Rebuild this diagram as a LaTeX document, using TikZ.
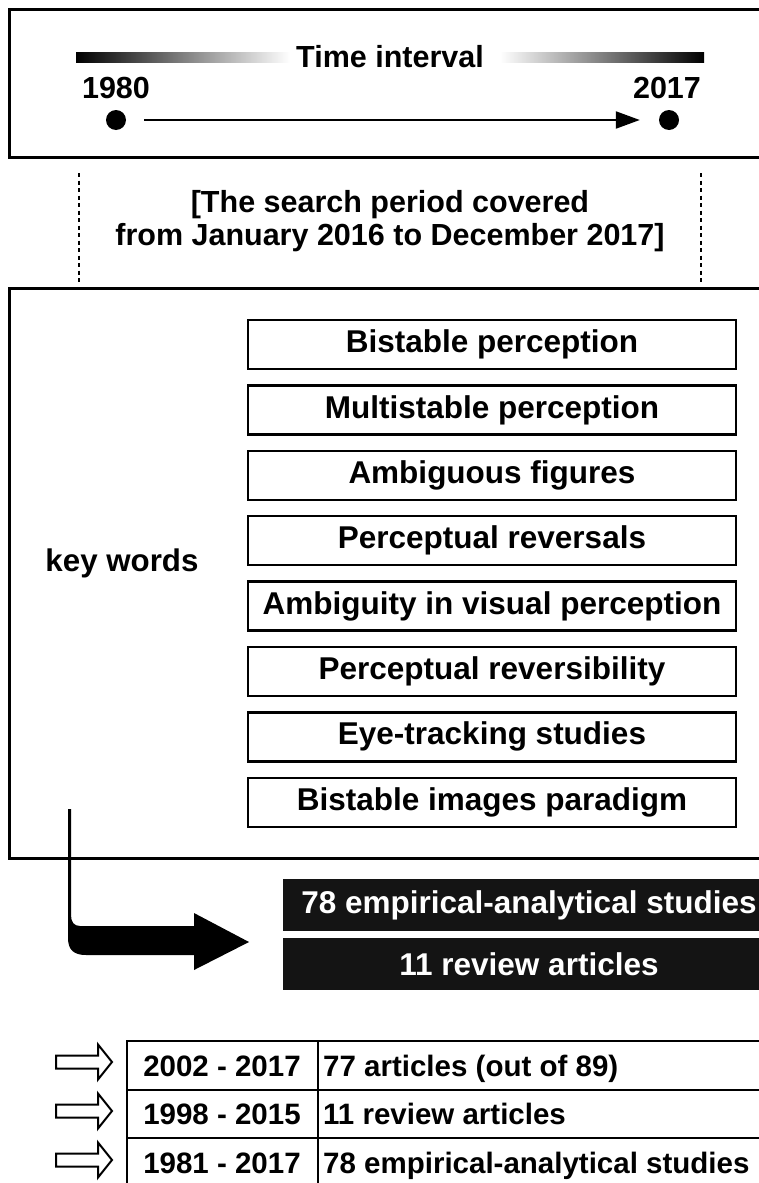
\documentclass[tikz,border=0pt]{standalone}
\usepackage{fontspec}
\setmainfont{Liberation Sans}
\usetikzlibrary{arrows.meta,positioning}

\begin{document}
\begin{tikzpicture}[x=1pt,y=-1pt,
    txt/.style={font=\fontsize{30.5}{33}\selectfont\bfseries, inner sep=0pt},
    dot/.style={circle, fill=black, minimum size=20pt, inner sep=0pt},
    keybox/.style={draw, line width=2.5pt, minimum width=488pt, minimum height=49pt,
        inner sep=0pt, font=\fontsize{31.5}{36}\selectfont\bfseries},
    blackbox/.style={fill=black!92, text=white, minimum width=492pt, minimum height=52pt,
        inner sep=0pt, font=\fontsize{31.5}{36}\selectfont\bfseries},
    cell/.style={font=\fontsize{29.5}{34}\selectfont\bfseries, inner sep=0pt}]

    \useasboundingbox (0,0) rectangle (759,1183);
    \clip (0,0) rectangle (759,1183);

    \def\timebox{(9,9) rectangle (790,157)}
    \def\wordbox{(9,288) rectangle (790,858)}
    \def\openarrow{(0,-6.5) -- (42,-6.5) -- (42,-17.5) -- (56,0) -- (42,17.5) -- (42,6.5) -- (0,6.5) -- cycle}

    %draw time interval:
    \draw[line width=3pt] \timebox;
    \shade[left color=black, right color=white] (76,52) rectangle (290,62);
    \shade[left color=white, right color=black] (500,52) rectangle (704,62);
    \node[txt] (time) at (390,57) {Time interval};
    \node[txt] (y1980) at (116,88) {1980};
    \node[txt] (y2017) at (667,88) {2017};
    \node[dot] (d1980) at (116,120) {};
    \node[dot] (d2017) at (669,120) {};
    \draw[line width=2.2pt, -{Triangle[length=24pt,width=17pt]},
        shorten <=18pt, shorten >=19pt] (d1980) -- (d2017);

    %draw search period:
    \draw[line width=2.5pt, dash pattern=on 4pt off 3.5pt] (79,173) -- (79,282);
    \draw[line width=2.5pt, dash pattern=on 4pt off 3.5pt] (701,173) -- (701,282);
    \node[txt, align=center] (period) at (390,221)
        {[The search period covered\\from January 2016 to December 2017]};

    %draw key words:
    \draw[line width=3pt] \wordbox;
    \node[txt, font=\fontsize{31.3}{36}\selectfont\bfseries] (key) at (122,563) {key words};
    \foreach \w [count=\i from 0] in {Bistable perception, Multistable perception,
        Ambiguous figures, Perceptual reversals, Ambiguity in visual perception,
        Perceptual reversibility, Eye-tracking studies, Bistable images paradigm}
        \node[keybox] (kw\i) at (492,{344.5+65.4*\i}) {\w};

    %draw result arrow:
    \fill (68,809) -- (68,938) .. controls (68,950) and (74,955) .. (86,955)
        -- (194,955) -- (194,970) -- (249,942) -- (194,913) -- (194,926) -- (80,926)
        .. controls (74,926) and (71,922) .. (71,915) -- (71,809) -- cycle;
    \node[blackbox] (emp) at (529,905) {78 empirical-analytical studies};
    \node[blackbox, below=7pt of emp] (rev) {11 review articles};

    %draw table:
    \draw[line width=2.5pt] (127,1041) rectangle (790,1190);
    \draw[line width=2.5pt] (127,1090) -- (790,1090) (127,1138) -- (790,1138)
        (318,1041) -- (318,1190);
    \foreach \y/\n [count=\i from 0] in {2002 - 2017/77 articles (out of 89),
        1998 - 2015/11 review articles, 1981 - 2017/78 empirical-analytical studies} {
        \draw[line width=2pt, shift={(56,1062+49*\i)}] \openarrow;
        \node[cell, anchor=base] (yr\i) at (222,1076+48.5*\i) {\y};
        \node[cell, anchor=base west] (nr\i) at (323,1076+48.5*\i) {\n};
    }

\end{tikzpicture}
\end{document}
